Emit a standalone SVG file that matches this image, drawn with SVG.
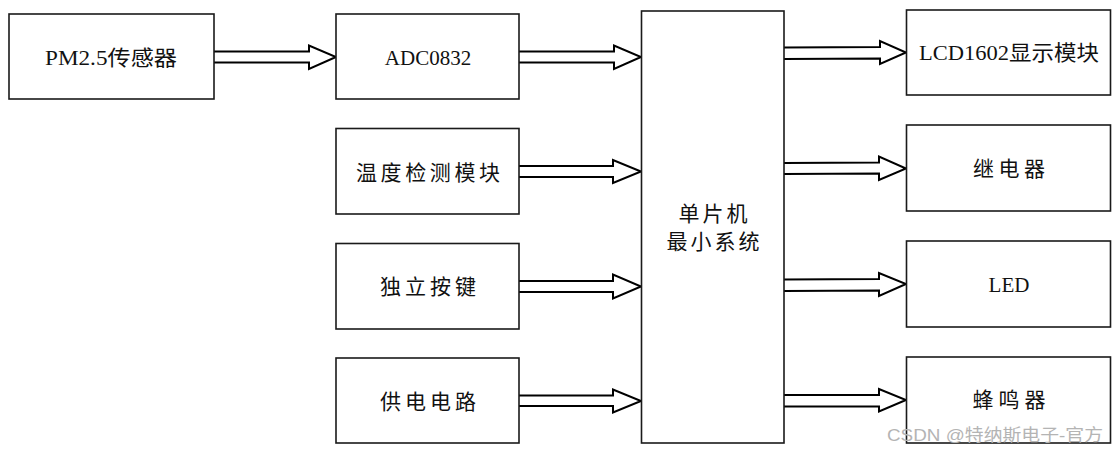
<svg xmlns="http://www.w3.org/2000/svg" width="1120" height="452" viewBox="0 0 1120 452">
<style>
.box{fill:#fff;stroke:#1a1a1a;stroke-width:1.6}
.arr{fill:#fff;stroke:#000;stroke-width:2;stroke-linejoin:miter}
.t{font-family:"Liberation Serif","Noto Sans CJK SC",serif;font-size:21px;fill:#111;text-anchor:middle}
.wm{font-family:"Liberation Sans","Noto Sans CJK SC",sans-serif;font-size:17px;fill:#b4b4b4}
</style>
<rect width="1120" height="452" fill="#fff"/>
<g id="connectors">
<path class="arr" d="M214,51.5 L309,51.5 L309,45.5 L336,57 L309,69 L309,62.5 L214,62.5"/>
<path class="arr" d="M519,51.5 L614,51.5 L614,45.5 L641,57 L614,69 L614,62.5 L519,62.5"/>
<path class="arr" d="M519,166 L613,166 L613,160 L641,171.5 L613,183 L613,177 L519,177"/>
<path class="arr" d="M519,281 L613,281 L613,274.5 L641,286.5 L613,298.5 L613,292 L519,292"/>
<path class="arr" d="M519,395.5 L613,395.5 L613,389.5 L641,401 L613,412.5 L613,406 L519,406"/>
<path class="arr" d="M784,47.5 L880,47 L880,41 L906,52.5 L880,64 L880,58.5 L784,59"/>
<path class="arr" d="M784,163 L879,162.5 L879,156.5 L906,168.5 L879,180 L879,173.5 L784,174"/>
<path class="arr" d="M784,279.5 L879,279 L879,273 L906,284 L879,296 L879,290.5 L784,291"/>
<path class="arr" d="M784,395 L879,395 L879,389 L906,400 L879,411.5 L879,406.5 L784,406.5"/>
</g>
<g id="pm25"><rect class="box" x="9" y="14" width="205" height="85"/><text class="t" x="111" y="65" textLength="132" lengthAdjust="spacingAndGlyphs">PM2.5传感器</text></g>
<g id="adc"><rect class="box" x="336" y="14" width="183" height="85"/><text class="t" x="428" y="65">ADC0832</text></g>
<g id="temp"><rect class="box" x="336" y="128.5" width="183" height="85.5"/><text class="t" x="428" y="180" textLength="144" lengthAdjust="spacing">温度检测模块</text></g>
<g id="key"><rect class="box" x="336" y="243.5" width="183" height="85.5"/><text class="t" x="428" y="294" textLength="96" lengthAdjust="spacing">独立按键</text></g>
<g id="power"><rect class="box" x="336" y="358" width="183" height="85"/><text class="t" x="428" y="409" textLength="96" lengthAdjust="spacing">供电电路</text></g>
<g id="mcu"><rect class="box" x="641.5" y="11" width="142.5" height="432"/><text class="t" x="713" y="221" textLength="69" lengthAdjust="spacing">单片机</text><text class="t" x="713" y="249" textLength="93" lengthAdjust="spacing">最小系统</text></g>
<g id="lcd"><rect class="box" x="906.5" y="10" width="204" height="85"/><text class="t" x="1009" y="60" textLength="180" lengthAdjust="spacingAndGlyphs">LCD1602显示模块</text></g>
<g id="relay"><rect class="box" x="906.5" y="125" width="204" height="86"/><text class="t" x="1009" y="176" textLength="72" lengthAdjust="spacing">继电器</text></g>
<g id="led"><rect class="box" x="906.5" y="241" width="204" height="86"/><text class="t" x="1009" y="292">LED</text></g>
<g id="buzzer"><rect class="box" x="906.5" y="357" width="204" height="86"/><text class="t" x="1009" y="407" textLength="73" lengthAdjust="spacing">蜂鸣器</text></g>
<text class="wm" x="887" y="441" textLength="216" lengthAdjust="spacingAndGlyphs">CSDN @特纳斯电子-官方</text>
</svg>
